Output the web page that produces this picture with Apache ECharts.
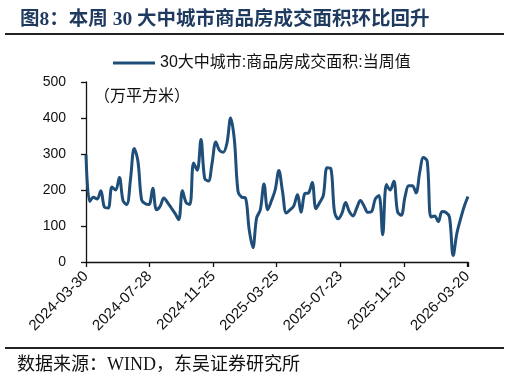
<!DOCTYPE html>
<html>
<head>
<meta charset="utf-8">
<script src="https://cdn.jsdelivr.net/npm/echarts@6/dist/echarts.min.js"></script>
<style>
html,body{margin:0;padding:0;background:#fff;}
#c{width:510px;height:382px;}
</style>
</head>
<body>
<div id="c"></div>
<script>
// ---- data ----
var startDate = '2024-03-30';
var tickLabels = ['2024-03-30','2024-07-28','2024-11-25','2025-03-25','2025-07-23','2025-11-20','2026-03-20'];
var seriesName = '30大中城市:商品房成交面积:当周值';
var values = [
  298,168,180,175,198,152,150,208,200,235,
  170,160,230,315,280,172,162,160,205,145,
  155,178,165,150,135,118,198,165,160,275,
  255,340,232,225,275,333,310,305,330,400,
  340,195,180,178,90,40,122,145,217,145,
  170,200,254,195,136,145,155,187,138,190,
  192,221,148,165,185,262,260,140,120,135,
  165,140,128,150,171,155,138,140,175,185,
  76,215,200,224,140,130,180,212,212,192,
  250,290,280,125,128,112,140,138,125,18,
  80,120,155,182
];

var pts = values.map(function(v,i){ return [i*7, v]; });

var chart = echarts.init(document.getElementById('c'));
var latin = 'Liberation Sans, Arial, Noto Sans CJK SC, sans-serif';
chart.setOption({
  animation:false,
  backgroundColor:'#fff',
  title:{
    text:'图8：本周 30 大中城市商品房成交面积环比回升',
    left:15, top:5,
    textStyle:{fontSize:19.5, fontWeight:'bold', color:'#1F3A5F', fontFamily:'Liberation Serif, Noto Sans CJK SC, serif'}
  },
  legend:{
    data:[seriesName],
    left:108, top:50,
    itemWidth:42, itemHeight:3, itemGap:4,
    icon:'rect',
    textStyle:{fontSize:16, color:'#111', fontFamily:latin}
  },
  grid:{left:86, right:42, top:82, bottom:120, containLabel:false, outerBoundsMode:'none'},
  xAxis:{
    type:'value', min:0, max:721, interval:120,
    axisLine:{lineStyle:{color:'#111', width:1.3}},
    axisTick:{show:true, length:5, lineStyle:{color:'#111', width:1.3}},
    axisLabel:{
      rotate:45, fontSize:15, color:'#111', fontFamily:latin, margin:12,
      overflow:'none', width:200, hideOverlap:false,
      formatter:function(v){ var i = Math.round(v/120); return (v%120===0 && tickLabels[i]) ? tickLabels[i] : ''; }
    },
    splitLine:{show:false}
  },
  yAxis:{
    type:'value', min:0, max:500, interval:100,
    axisLine:{show:true, lineStyle:{color:'#111', width:1.3}},
    axisTick:{show:true, length:5, inside:false, lineStyle:{color:'#111', width:1.3}},
    axisLabel:{fontSize:14, color:'#111', fontFamily:latin, margin:20},
    splitLine:{show:false}
  },
  series:[{
    name:seriesName, type:'line', data:pts, smooth:0.35,
    showSymbol:false, symbol:'none',
    lineStyle:{color:'#1F4E79', width:3},
    itemStyle:{color:'#1F4E79'}
  }],
  graphic:[
    {type:'line', shape:{x1:5,y1:34,x2:504,y2:34}, style:{stroke:'#222', lineWidth:2}},
    {type:'line', shape:{x1:5,y1:348,x2:504,y2:348}, style:{stroke:'#222', lineWidth:2}},
    {type:'text', left:94, top:87, style:{text:'（万平方米）', font:'16px Noto Sans CJK SC', fill:'#111'}},
    {type:'text', left:17, top:356, style:{text:'数据来源：WIND，东吴证券研究所', font:'18px Liberation Serif, Noto Sans CJK SC', fill:'#111'}}
  ]
});
</script>
</body>
</html>
